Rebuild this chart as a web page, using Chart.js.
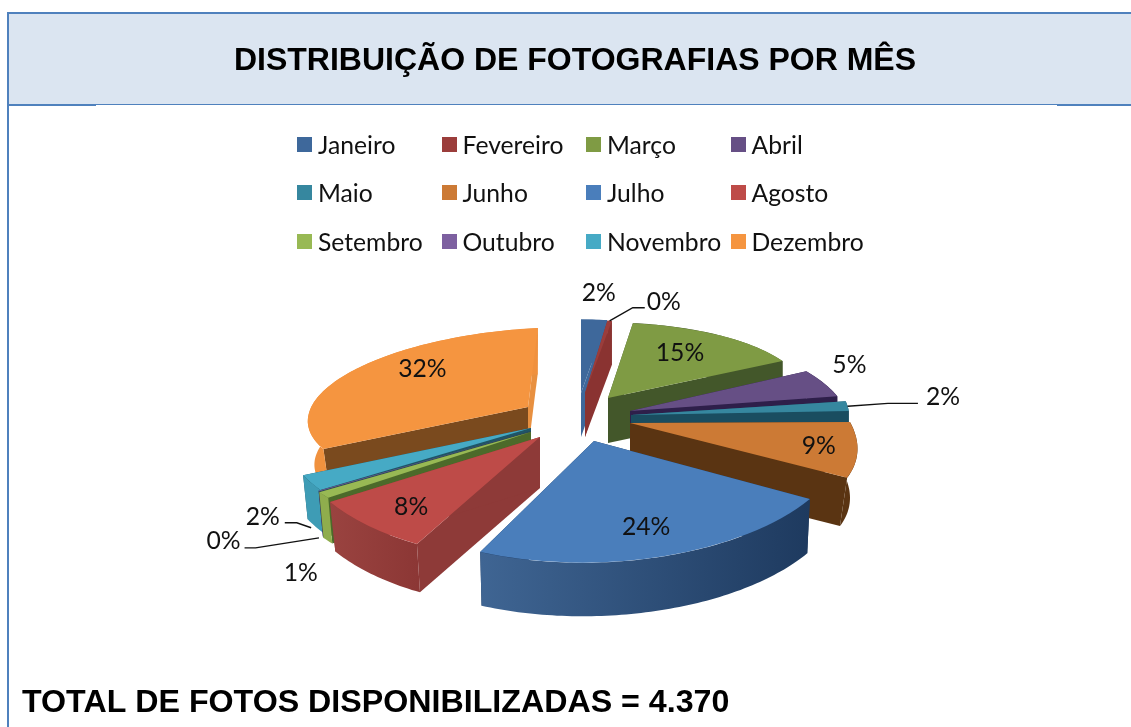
<!DOCTYPE html>
<html lang="pt">
<head>
<meta charset="utf-8">
<title>Distribuição de fotografias por mês</title>
<script src="https://cdn.jsdelivr.net/npm/chart.js@4/dist/chart.umd.min.js"></script>
<style>
  html, body { margin: 0; padding: 0; background: #fff; overflow: hidden; }
  #page { position: relative; width: 1131px; height: 727px; overflow: hidden; }
  #frame { position: absolute; left: 7px; top: 12px; right: -4px; bottom: -4px; border: 2px solid #4F81BD; box-sizing: border-box; }
  #head { position: absolute; left: 9px; top: 14px; width: 1122px; height: 90px; background: #DBE5F1; }
  #rule { position: absolute; left: 9px; top: 104px; width: 1122px; height: 1px; background: #4F81BD; }
  .thick { position: absolute; top: 104px; height: 2px; background: #4F81BD; }
  canvas { position: absolute; left: 0; top: 0; }
  #legend { position: absolute; left: 297px; top: 120px; display: grid;
            grid-template-columns: repeat(4, 144.5px); grid-auto-rows: 48.5px;
            font: 24.7px Lato, sans-serif; color: #111; }
  #legend div { display: flex; align-items: center; white-space: nowrap; }
  #legend i { display: block; width: 15px; height: 15px; margin-right: 6px; flex: none; }
</style>
</head>
<body>
<div id="page">
  <div id="frame"></div>
  <div id="head"></div>
  <div id="rule"></div>
  <div class="thick" style="left:9px;width:87px"></div>
  <div class="thick" style="left:1057px;width:74px"></div>
  <canvas id="c" width="1131" height="727"></canvas>
  <div id="legend"></div>
</div>
<script>
const chartTitle = 'DISTRIBUIÇÃO DE FOTOGRAFIAS POR MÊS';
const totalText = 'TOTAL DE FOTOS DISPONIBILIZADAS = 4.370';
const months = ['Janeiro','Fevereiro','Março','Abril','Maio','Junho','Julho','Agosto','Setembro','Outubro','Novembro','Dezembro'];
const shares = [2, 0.4, 15, 5, 2, 9, 24, 8, 1, 0.08, 2.32, 32];
const faceColors = ['#3E689B','#9B3D3B','#7F9B44','#664F85','#36879F','#CC7A35','#4A7EBB','#BE4B48','#98B954','#7D60A0','#46AAC5','#F59540'];
const wallLeft  = ['#3E689B','#8A3331','#43572A','#2E1F4A','#1A4D60','#5A3412','#3F6593','#9A4340','#8FAD4D','#4A3A66','#3E9CB5','#F0913E'];
const wallRight = ['#3E689B','#8A3331','#43572A','#2E1F4A','#1A4D60','#5A3412','#1E3A5F','#8C3735','#8FAD4D','#4A3A66','#3E9CB5','#F0913E'];
const startCutColors = ['#3E689B','#8A3331','#43572A','#2E1F4A','#1A4D60','#5A3412','#1E3A5F','#8E3A38','#4C6A2A','#2A4A5C','#1F5566','#7A4A1E'];
const endCutColors   = ['#3E689B','#8A3331','#43572A','#2E1F4A','#1A4D60','#5A3412','#1E3A5F','#8E3A38','#4C6A2A','#2A4A5C','#1F5566','#E89040'];

// Exploded 3D view of each slice: pivot, radius, tilt, shear, extrusion depth, base shrink.
const sliceView = [
  {px:581,py:393,r:210,k:.35,sx:0,sy:0,d:44,b:1},
  {px:585,py:393,r:180,k:.405,sx:0,sy:0,d:44,b:1},
  {px:608,py:398,r:200,k:.377,sx:.025,sy:-.01,d:45,b:1},
  {px:630,py:411,r:216,k:.394,sx:.145,sy:0,d:45,b:1},
  {px:631,py:415,r:218,k:.36,sx:0,sy:0,d:45,b:1},
  {px:630,py:423,r:222.6,k:.47,sx:.211,sy:.019,d:50,b:.967},
  {px:594,py:441,r:252,k:.483,sx:-.032,sy:-.007,d:55,b:.988},
  {px:540,py:437,r:245,k:.5,sx:-.088,sy:.039,d:51,b:.975},
  {px:531,py:432,r:252,k:.44,sx:0,sy:0,d:47,b:.98},
  {px:531,py:431,r:252,k:.44,sx:0,sy:0,d:47,b:.98},
  {px:531,py:428,r:250,k:.46,sx:0,sy:0,d:45,b:.98},
  {px:528,py:407,r:220,k:.359,sx:-.045,sy:-.048,d:44,b:.97}
];
const paintOrder = [0,1,11,2,3,4,5,10,9,8,7,6];
// Label anchor: fraction of radius along mid-angle plus a nudge; leader = [end dx, end dy, elbow dx]
const labelPlace = [
  {f:1.36,nx:0,ny:0},
  {f:1.25,nx:48,ny:-1,leader:[-19,6,-12]},
  {f:.6,nx:5,ny:-7},
  {f:1.13,nx:0,ny:-15},
  {f:1.44,nx:0,ny:-5,leader:[-25,6,-30]},
  {f:.83,nx:0,ny:0},
  {f:.75,nx:0,ny:0},
  {f:.75,nx:0,ny:3},
  {f:1.115,nx:1,ny:71},
  {f:1.45,nx:0,ny:23,leader:[21,7,11],base:true},
  {f:1.22,nx:0,ny:22,leader:[22,6,12],base:true},
  {f:.6,nx:2,ny:-18}
];

function project(v, a, f) {
  const u = Math.cos(a) * f, w = Math.sin(a) * f;
  return [v.px + v.r * (u + v.sx * w), v.py + v.r * (v.sy * u + v.k * w)];
}
function drop(v, p) {
  return [v.px + (p[0] - v.px) * v.b, v.py + (p[1] - v.py) * v.b + v.d];
}

const pie3d = {
  id: 'pie3d',
  beforeDatasetDraw(chart, args) {
    const ctx = chart.ctx;
    const arcs = chart.getDatasetMeta(args.index).data;
    paintOrder.forEach(i => {
      const arc = arcs[i], v = sliceView[i];
      const {x, y, startAngle: a0, endAngle: a1, outerRadius: O} =
        arc.getProps(['x','y','startAngle','endAngle','outerRadius'], true);
      const d = v.d;
      // cut faces
      [[project(v, a0, 1), startCutColors[i]], [project(v, a1, 1), endCutColors[i]]].forEach(([p, col]) => {
        const q = drop(v, p);
        ctx.fillStyle = col;
        ctx.beginPath();
        ctx.moveTo(v.px, v.py); ctx.lineTo(p[0], p[1]);
        ctx.lineTo(q[0], q[1]); ctx.lineTo(v.px, v.py + d);
        ctx.closePath(); ctx.fill();
      });
      // outer wall
      const pts = [];
      const n = Math.max(4, Math.ceil((a1 - a0) / 0.02));
      for (let j = 0; j <= n; j++) pts.push(project(v, a0 + (a1 - a0) * j / n, 1));
      const xs = pts.map(p => p[0]);
      const g = ctx.createLinearGradient(Math.min(...xs), 0, Math.max(...xs), 0);
      g.addColorStop(0, wallLeft[i]); g.addColorStop(1, wallRight[i]);
      ctx.fillStyle = g;
      ctx.beginPath();
      pts.forEach((p, j) => j ? ctx.lineTo(p[0], p[1]) : ctx.moveTo(p[0], p[1]));
      for (let j = n; j >= 0; j--) { const q = drop(v, pts[j]); ctx.lineTo(q[0], q[1]); }
      ctx.closePath(); ctx.fill();
      // top face, drawn by the library's arc element under the slice's view
      ctx.save();
      const q = v.r / O;
      ctx.transform(q, q * v.sy, q * v.sx, q * v.k, v.px, v.py);
      ctx.translate(-x, -y);
      arc.draw(ctx);
      ctx.restore();
    });
    return false;
  },
  afterDatasetsDraw(chart) {
    const ctx = chart.ctx;
    const arcs = chart.getDatasetMeta(0).data;
    ctx.save();
    ctx.font = '24.7px Lato, sans-serif';
    ctx.fillStyle = '#111';
    ctx.strokeStyle = '#111';
    ctx.lineWidth = 1.4;
    ctx.textAlign = 'center';
    ctx.textBaseline = 'middle';
    arcs.forEach((arc, i) => {
      const v = sliceView[i], L = labelPlace[i];
      const {startAngle: a0, endAngle: a1} = arc.getProps(['startAngle','endAngle'], true);
      const mid = (a0 + a1) / 2;
      const p = project(v, mid, L.f);
      const lx = p[0] + L.nx, ly = p[1] + L.ny;
      if (L.leader) {
        const q = project(v, mid, 1);
        const ex = lx + L.leader[0], ey = ly + L.leader[1];
        ctx.beginPath();
        ctx.moveTo(q[0], q[1] + (L.base ? v.d : 0));
        ctx.lineTo(ex + L.leader[2], ey);
        ctx.lineTo(ex, ey);
        ctx.stroke();
      }
      ctx.fillText(Math.round(shares[i]) + '%', lx, ly);
    });
    ctx.restore();
  }
};

new Chart(document.getElementById('c'), {
  type: 'pie',
  data: {
    labels: months,
    datasets: [{ data: shares, backgroundColor: faceColors, borderWidth: 0 }]
  },
  plugins: [pie3d],
  options: {
    responsive: false,
    animation: false,
    layout: { padding: { left: 22, right: 3 } },
    plugins: {
      legend: { display: false },
      tooltip: { enabled: false },
      title: { display: true, text: chartTitle, color: '#000', align: 'center',
        font: { family: '"Liberation Sans", Arial, sans-serif', size: 32, weight: 'bold' },
        padding: { top: 42, bottom: 0 } },
      subtitle: { display: true, position: 'bottom', align: 'start', text: totalText, color: '#000',
        font: { family: '"Liberation Sans", Arial, sans-serif', size: 32.2, weight: 'bold' },
        padding: { top: 0, bottom: 5 } }
    }
  }
});

const legendBox = document.getElementById('legend');
months.forEach((m, i) => {
  const row = document.createElement('div');
  const sw = document.createElement('i');
  sw.style.background = faceColors[i];
  row.appendChild(sw);
  row.appendChild(document.createTextNode(m));
  legendBox.appendChild(row);
});
</script>
</body>
</html>
